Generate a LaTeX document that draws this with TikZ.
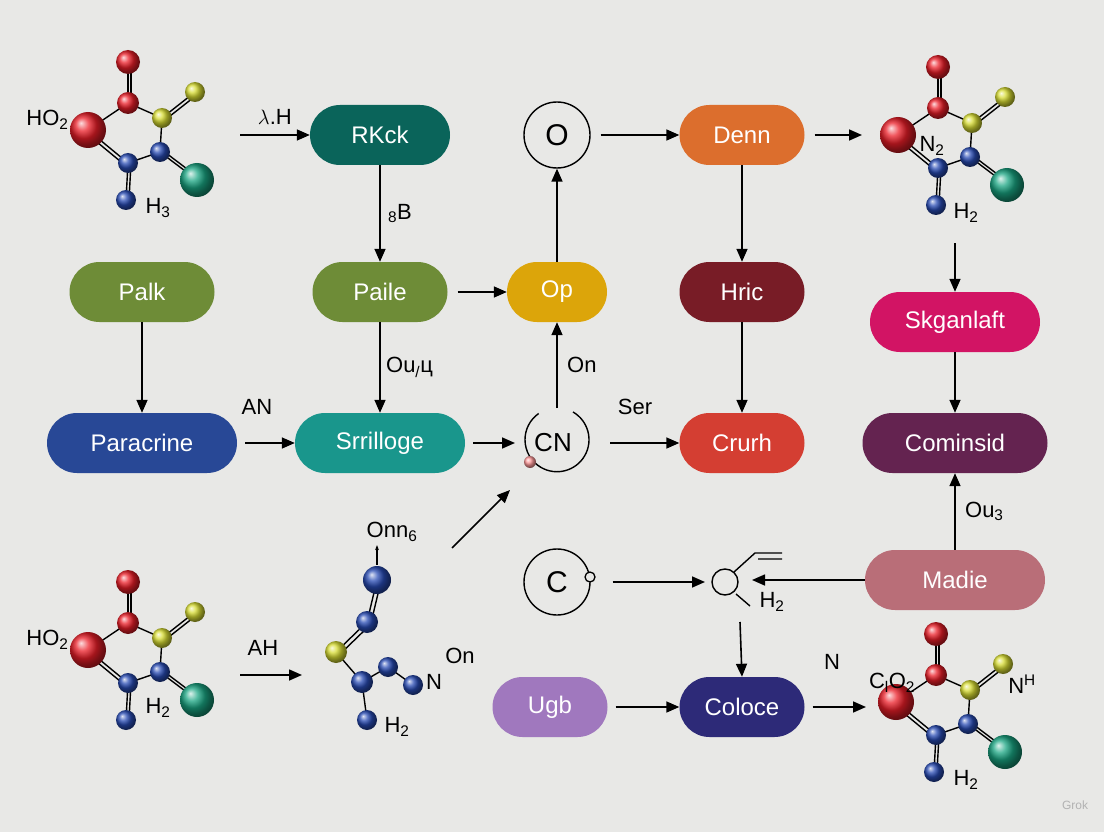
\documentclass[tikz,border=0pt]{standalone}
\usepackage{fontspec}
\setmainfont{Liberation Sans}
\usetikzlibrary{arrows.meta}
\newcommand{\sbs}[1]{\textsubscript{#1}}
\definecolor{bg}{RGB}{232,232,230}
\definecolor{cRK}{RGB}{10,100,90}
\definecolor{cDe}{RGB}{220,110,45}
\definecolor{cGr}{RGB}{110,140,55}
\definecolor{cOp}{RGB}{220,165,10}
\definecolor{cHr}{RGB}{120,28,38}
\definecolor{cSk}{RGB}{210,20,100}
\definecolor{cPa}{RGB}{40,72,150}
\definecolor{cSr}{RGB}{25,150,140}
\definecolor{cCr}{RGB}{212,62,50}
\definecolor{cCo}{RGB}{100,35,80}
\definecolor{cMa}{RGB}{185,110,120}
\definecolor{cUg}{RGB}{160,120,190}
\definecolor{cCl}{RGB}{45,42,120}
\definecolor{aR}{RGB}{235,30,40}
\definecolor{aY}{RGB}{215,220,50}
\definecolor{aB}{RGB}{40,75,180}
\definecolor{aT}{RGB}{25,165,130}
\tikzset{
 x=1pt,y=-1pt,
 pill/.style={rounded corners=30pt,minimum height=60pt,text=white,font=\fontsize{24}{24}\selectfont,inner sep=0pt},
 ar/.style={-{Triangle[length=13pt,width=11pt]},line width=1.6pt},
 lbl/.style={font=\fontsize{22}{22}\selectfont},
 circ/.style={circle,draw,line width=1.4pt,minimum size=66pt,font=\fontsize{30}{30}\selectfont},
 bond/.style={line width=1.4pt},
 atom/.style={circle,shading=ball,inner sep=0pt,minimum size=#1},
 pics/mol/.style={code={
  \draw[bond] (0,-37)--(0,-78) (3,-37)--(3,-78);
  \draw[bond] (0,-37)--(-40,-10) (0,-37)--(34,-22) (34,-22)--(67,-48) (37,-20)--(70,-46)
   (34,-22)--(32,12) (32,12)--(69,40) (34,10)--(71,38) (32,12)--(0,23)
   (0,23)--(-40,-10) (-2,26)--(-42,-7) (0,23)--(-2,60) (3,23)--(1,60);
  \node[atom=24pt,ball color=aR] at (0,-78){};
  \node[atom=22pt,ball color=aR] at (0,-37){};
  \node[atom=36pt,ball color=aR] at (-40,-10){};
  \node[atom=20pt,ball color=aY] at (34,-22){};
  \node[atom=20pt,ball color=aY] at (67,-48){};
  \node[atom=20pt,ball color=aB] at (32,12){};
  \node[atom=34pt,ball color=aT] at (69,40){};
  \node[atom=20pt,ball color=aB] at (0,23){};
  \node[atom=20pt,ball color=aB] at (-2,60){};
 }}
}
\begin{document}
\begin{tikzpicture}
\fill[bg] (0,0) rectangle (1104,832);
\useasboundingbox (0,0) rectangle (1104,832);
% molecules
\pic at (128,140) {mol};
\node[lbl,anchor=east] (tlA) at (72,120) {HO\sbs{2}};
\node[lbl] (tlB) at (158,208) {H\sbs{3}};
\pic at (128,660) {mol};
\node[lbl,anchor=east] (blA) at (72,640) {HO\sbs{2}};
\node[lbl] (blB) at (158,708) {H\sbs{2}};
\pic at (938,145) {mol};
\node[lbl] (trA) at (932,146) {N\sbs{2}};
\node[lbl] (trB) at (966,213) {H\sbs{2}};
\pic at (936,712) {mol};
\node[lbl] (brA) at (892,683) {C\sbs{l}O\sbs{2}};
\node[lbl] (brB) at (1022,684) {N\textsuperscript{H}};
\node[lbl] (brC) at (966,780) {H\sbs{2}};
\coordinate (trT) at (955,243);
\coordinate (trL) at (862,135);
\coordinate (brL) at (866,707);
% bottom middle molecule
\draw[bond] (377,580)--(367,622) (381,581)--(371,623) (367,622)--(336,652) (369,626)--(338,656)
 (336,652)--(362,682)--(388,667)--(413,685) (362,682)--(367,720);
\node[atom=28pt,ball color=aB] at (377,580){};
\node[atom=22pt,ball color=aB] at (367,622){};
\node[atom=22pt,ball color=aY] at (336,652){};
\node[atom=22pt,ball color=aB] at (362,682){};
\node[atom=20pt,ball color=aB] at (388,667){};
\node[atom=20pt,ball color=aB] at (413,685){};
\node[atom=20pt,ball color=aB] at (367,720){};
\node[lbl] (bmN) at (434,682) {N};
\node[lbl] (bmO) at (460,656) {On};
\node[lbl] (bmH) at (397,727) {H\sbs{2}};
\node[lbl] (onn) at (392,532) {Onn\sbs{6}};
\coordinate (bmtop) at (377,565);
\draw[-{Stealth[length=5pt]},line width=1.2pt] (bmtop) -- (onn.south west -| bmtop);
% pills
\node[pill,fill=cRK,minimum width=140pt] (rk) at (380,135) {RKck};
\node[pill,fill=cDe,minimum width=125pt] (de) at (742,135) {Denn};
\node[pill,fill=cGr,minimum width=145pt] (pa) at (142,292) {Palk};
\node[pill,fill=cGr,minimum width=135pt] (pl) at (380,292) {Paile};
\node[pill,fill=cOp,minimum width=100pt] (op) at (557,292) {Op};
\node[pill,fill=cHr,minimum width=125pt] (hr) at (742,292) {Hric};
\node[pill,fill=cSk,minimum width=170pt] (sk) at (955,322) {Skganlaft};
\node[pill,fill=cPa,minimum width=190pt] (pr) at (142,443) {Paracrine};
\node[pill,fill=cSr,minimum width=170pt] (sr) at (380,443) {Srrilloge};
\node[pill,fill=cCr,minimum width=125pt] (cr) at (742,443) {Crurh};
\node[pill,fill=cCo,minimum width=185pt] (cm) at (955,443) {Cominsid};
\node[pill,fill=cMa,minimum width=180pt] (ma) at (955,580) {Madie};
\node[pill,fill=cUg,minimum width=115pt] (ug) at (550,707) {Ugb};
\node[pill,fill=cCl,minimum width=125pt] (cl) at (742,707) {Coloce};
% circles
\node[circ] (oc) at (557,135) {O};
\draw[line width=1.4pt] (573,412) arc (-60:235:32) ;
\node[font=\fontsize{26}{26}\selectfont] (cn) at (553,443) {CN};
\node[circle,shading=ball,ball color=pink!80!red,minimum size=12pt,inner sep=0pt] at (530,462) {};
\coordinate (cnL) at (515,443); \coordinate (cnT) at (557,408); \coordinate (cnR) at (598,443);
\node[circ] (cc) at (557,582) {C};
\draw[line width=1.3pt,fill=bg] (590,577) circle (5);
% fragment
\draw[line width=1.4pt] (725,582) circle (13);
\draw[line width=1.4pt] (734,572)--(755,553)--(782,553) (758,559)--(782,559) (736,594)--(750,606);
\node[lbl] (fh) at (772,602) {H\sbs{2}};
\coordinate (frL) at (705,582); \coordinate (frR) at (752,580); \coordinate (frB) at (740,622);
% arrows
\coordinate (a1) at (240,135);
\draw[ar] (a1) -- (rk.west) node[lbl,midway,above=6pt] {$\lambda$.H};
\draw[ar] (rk.south) -- (pl.north) node[midway,right=4pt,lbl] {\sbs{8}B};
\draw[ar] (pl.east) ++(10,0) -- (op.west);
\draw[ar] (op.north) -- (oc.south);
\draw[ar] (oc.east) ++(10,0) -- (de.west);
\draw[ar] (de.east) ++(10,0) -- (trL);
\draw[ar] (de.south) -- (hr.north);
\draw[ar] (hr.south) -- (cr.north);
\draw[ar] (trT) -- (sk.north);
\draw[ar] (sk.south) -- (cm.north);
\draw[ar] (ma.north) -- (cm.south) node[midway,right=6pt,lbl] {Ou\sbs{3}};
\draw[ar] (ma.west) -- (frR);
\draw[ar] (cc.east) ++(22,0) -- (frL);
\draw[ar] (frB) -- (cl.north);
\draw[ar] (ug.east) ++(8,0) -- (cl.west);
\draw[ar] (cl.east) ++(8,0) -- (brL);
\node[lbl] at (832,662) {N};
\draw[ar] (pa.south) -- (pr.north);
\draw[ar] (pr.east) ++(8,0) -- (sr.west);
\node[lbl] at (257,407) {AN};
\draw[ar] (pl.south) -- (sr.north) node[midway,right=2pt,lbl] {Ou\sbs{/}ц};
\draw[ar] (sr.east) ++(8,0) -- (cnL);
\draw[ar] (cnT) -- (op.south) node[midway,right=6pt,lbl] {On};
\draw[ar] (cnR) ++(12,0) -- (cr.west);
\node[lbl] at (635,407) {Ser};
\coordinate (dg) at (452,548);
\draw[ar] (dg) -- (510,490);
\coordinate (a2) at (240,675);
\draw[ar] (a2) -- (302,675);
\node[lbl] at (263,648) {AH};
\node[text=gray!60,font=\fontsize{12}{12}\selectfont] at (1075,805) {Grok};
\end{tikzpicture}
\end{document}
